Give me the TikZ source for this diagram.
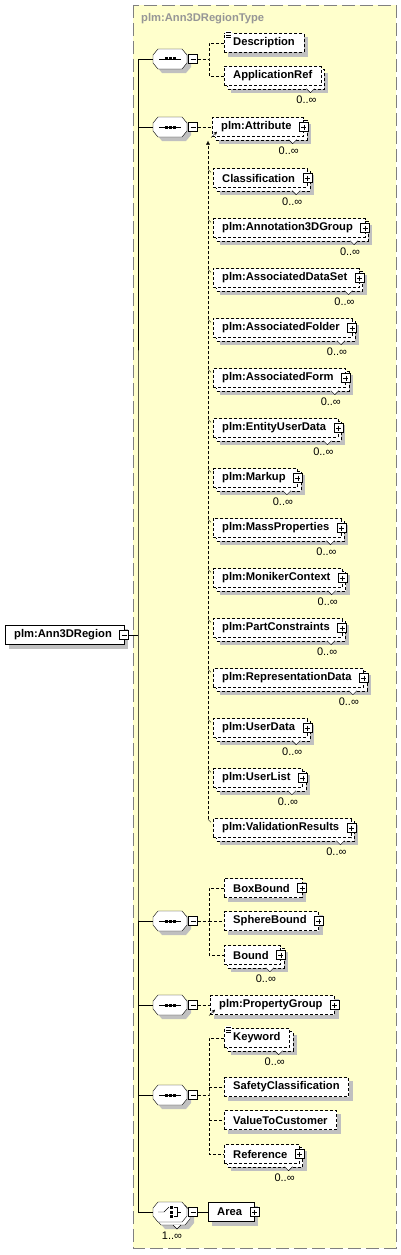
\documentclass[tikz,border=0pt]{standalone}
\usepackage{fontspec}
\setmainfont{Liberation Sans}
\usepackage{tikz}
\usetikzlibrary{
    calc,
    arrows.meta
}
\pgfdeclarelayer{bg}
\pgfdeclarelayer{shd}
\pgfsetlayers{bg,shd,main}

\definecolor{panel}{RGB}{255,255,204}
\definecolor{framegray}{RGB}{128,128,128}
\definecolor{titlegray}{RGB}{150,150,150}
\definecolor{shadowgray}{RGB}{192,192,192}

% outline of a compositor
\newcommand{\octpath}{(-17,-4) -- (-12,-10) -- (12,-10) -- (17,-4) -- (17,4) -- (12,10) -- (-12,10) -- (-17,4) -- cycle}

% shadow of a single element
\newcommand{\soloshadow}[1]{%
    \begin{pgfonlayer}{shd}
        \fill[shadowgray] ($(#1.north west)+(4,4)$) rectangle ($(#1.south east)+(4,4)$);
    \end{pgfonlayer}}
% element that may occur many times
\newcommand{\multibox}[1]{%
    \begin{pgfonlayer}{shd}
        \fill[shadowgray] ($(#1.north west)+(7,7)$) rectangle ($(#1.south east)+(7,7)$);
        \draw[dashline, fill=white] ($(#1.north west)+(3,3)$) rectangle ($(#1.south east)+(3,3)$);
    \end{pgfonlayer}
    \draw[fill=white] ($(#1.south east)+(-15,3)$) -- ++(4,4) -- ++(4,-4);
    \node[occ] at ($(#1.south east)+(-15,14)$) {0..∞};}
% documentation mark
\newcommand{\docmark}[1]{%
    \fill[white] ($(#1.north west)+(1,-2)$) rectangle ($(#1.north west)+(8,5)$);
    \foreach \d in {-0.5,2,4.5}
        \draw[line width=0.9pt] ($(#1.north west)+(2,\d)$) -- ++(5,0);}
% reference mark
\newcommand{\refmark}[1]{%
    \draw[-{Stealth[length=3.5pt,width=3.5pt]}] ($(#1.south west)+(-1,1)$) -- ++(6,-6);}

\tikzset{
    elem/.style={draw, dash pattern=on 3pt off 2pt, fill=white, anchor=west,
        font=\bfseries\fontsize{11.2}{13}\selectfont,
        inner xsep=9pt, inner ysep=0pt, minimum height=19pt},
    fixed/.style={solid},
    pl/.style={execute at end node={\hspace*{3pt}}},
    dashline/.style={dash pattern=on 3pt off 2pt},
    occ/.style={font=\fontsize{11}{13}\selectfont, inner sep=0pt},
    typetitle/.style={font=\bfseries\fontsize{11.2}{13}\selectfont, text=titlegray,
        anchor=west, inner sep=2pt},
    plusbox/.style={draw, solid, fill=white, minimum size=9pt, inner sep=0pt,
        path picture={
            \draw ([xshift=2pt]path picture bounding box.west) -- ([xshift=-2pt]path picture bounding box.east);
            \draw ([yshift=-2pt]path picture bounding box.north) -- ([yshift=2pt]path picture bounding box.south);}},
    minusbox/.style={draw, solid, fill=white, minimum size=9pt, inner sep=0pt,
        path picture={
            \draw ([xshift=2pt]path picture bounding box.west) -- ([xshift=-2pt]path picture bounding box.east);}},
    octnode/.style={inner sep=0pt, minimum width=34pt, minimum height=20pt},
    seq/.pic={
        \fill[shadowgray, shift={(4,4)}] \octpath;
        \draw[fill=white] \octpath;
        \draw (-11,0) -- (11,0);
        \foreach \d in {-4,0,4}
            \fill (\d-1.5,-1.5) rectangle (\d+1.5,1.5);
        \node[octnode] (-o) at (0,0) {};
        \node[minusbox] (-m) at (23,0) {};
    },
    choice/.pic={
        \fill[shadowgray, shift={(7,7)}] \octpath;
        \draw[fill=white, shift={(3,3)}] \octpath;
        \draw[fill=white] \octpath;
        \draw (-12,0) -- (-6,0) -- (-1,-5);
        \foreach \d in {-4.5,0,4.5}
            \fill (-0.5,\d-1.5) rectangle (2.5,\d+1.5);
        \draw (4,-4.5) -- (7,-4.5) -- (7,4.5) -- (4,4.5) (7,0) -- (11,0);
        \draw[fill=white] (3,13) -- (7,17) -- (11,13);
        \node[occ] at (2,24) {1..∞};
        \node[octnode] (-o) at (0,0) {};
        \node[minusbox] (-m) at (23,0) {};
    }
}

\begin{document}
\begin{tikzpicture}[x=1pt, y=-1pt, line width=1.2pt]
    \useasboundingbox (0,0) rectangle (401,1255);
    \begin{pgfonlayer}{bg}
        \draw[framegray, dash pattern=on 13pt off 5pt, fill=panel] (133,5) rectangle (396,1248);
    \end{pgfonlayer}
    \node[typetitle] (ttl) at (139,19) {plm:Ann3DRegionType};

    % root
    \node[elem, fixed, pl] (root) at (5,635) {plm:Ann3DRegion};
    \soloshadow{root}
    \node[minusbox] (root-m) at (root.east) {};
    \coordinate (trunk) at (138,635);
    \draw (root-m.east) -- (trunk);

    % compositors
    \pic (c1) at (170,59) {seq};
    \pic (c2) at (170,127) {seq};
    \pic (c3) at (170,921) {seq};
    \pic (c4) at (170,1005) {seq};
    \pic (c5) at (170,1095) {seq};
    \pic (c6) at (170,1212) {choice};
    \draw (c1-o.west) -| (trunk) |- (c6-o.west);
    \foreach \k in {c2,c3,c4,c5}
        \draw (\k-o.west) -- (\k-o.west -| trunk);

    % first sequence
    \node[elem] (desc) at (224,43) {Description};
    \soloshadow{desc}
    \docmark{desc}
    \node[elem] (aref) at (224,76) {ApplicationRef};
    \multibox{aref}
    \coordinate (k1) at (209,59);
    \draw[dashline] (c1-m.east) -- (k1);
    \draw[dashline] (desc.west) -| (k1) |- (aref.west);

    % attribute and its substitution group
    \node[elem, pl] (attr) at (212,127) {plm:Attribute};
    \multibox{attr}
    \node[plusbox] (attr-p) at (attr.east) {};
    \refmark{attr}
    \draw[dashline] (c2-m.east) -- (attr.west);
    \foreach \n [count=\i] in {Classification, plm:Annotation3DGroup, plm:AssociatedDataSet,
        plm:AssociatedFolder, plm:AssociatedForm, plm:EntityUserData, plm:Markup,
        plm:MassProperties, plm:MonikerContext, plm:PartConstraints,
        plm:RepresentationData, plm:UserData, plm:UserList, plm:ValidationResults} {
        \node[elem, pl] (s\i) at (213,128+50*\i) {\n};
        \multibox{s\i}
        \node[plusbox] (s\i-p) at (s\i.east) {};
        \draw ($(s\i.north west)+(-5,1)$) -- ++(3,3);
    }
    \draw[dashline, -{Latex[length=4pt, width=4pt]}] ($(s14.north west)+(-5,1)$) -- ($(attr.south west)+(-4,4)$);

    % bounds
    \node[elem, pl] (boxb) at (224,888) {BoxBound};
    \node[elem, pl] (sphb) at (224,921) {SphereBound};
    \node[elem, pl] (bnd) at (224,955) {Bound};
    \soloshadow{boxb}
    \soloshadow{sphb}
    \multibox{bnd}
    \node[plusbox] (boxb-p) at (boxb.east) {};
    \node[plusbox] (sphb-p) at (sphb.east) {};
    \node[plusbox] (bnd-p) at (bnd.east) {};
    \coordinate (k3) at (209,921);
    \draw[dashline] (c3-m.east) -- (k3);
    \draw[dashline] (boxb.west) -| (k3) |- (bnd.west);
    \draw[dashline] (k3) -- (sphb.west);

    % property group
    \node[elem, pl] (pgrp) at (210,1005) {plm:PropertyGroup};
    \soloshadow{pgrp}
    \node[plusbox] (pgrp-p) at (pgrp.east) {};
    \refmark{pgrp}
    \draw[dashline] (c4-m.east) -- (pgrp.west);

    % last sequence
    \node[elem] (kw) at (224,1038) {Keyword};
    \multibox{kw}
    \docmark{kw}
    \node[elem] (safe) at (224,1087) {SafetyClassification};
    \soloshadow{safe}
    \node[elem] (v2c) at (224,1120) {ValueToCustomer};
    \soloshadow{v2c}
    \node[elem, pl] (refr) at (224,1154) {Reference};
    \multibox{refr}
    \node[plusbox] (refr-p) at (refr.east) {};
    \coordinate (k5) at (209,1095);
    \draw[dashline] (c5-m.east) -- (k5);
    \draw[dashline] (kw.west) -| (k5) |- (refr.west);
    \draw[dashline] (k5 |- safe.west) -- (safe.west);
    \draw[dashline] (k5 |- v2c.west) -- (v2c.west);

    % choice
    \node[elem, fixed, pl] (area) at (208,1212) {Area};
    \soloshadow{area}
    \node[plusbox] (area-p) at (area.east) {};
    \draw (c6-m.east) -- (area.west);
\end{tikzpicture}
\end{document}
